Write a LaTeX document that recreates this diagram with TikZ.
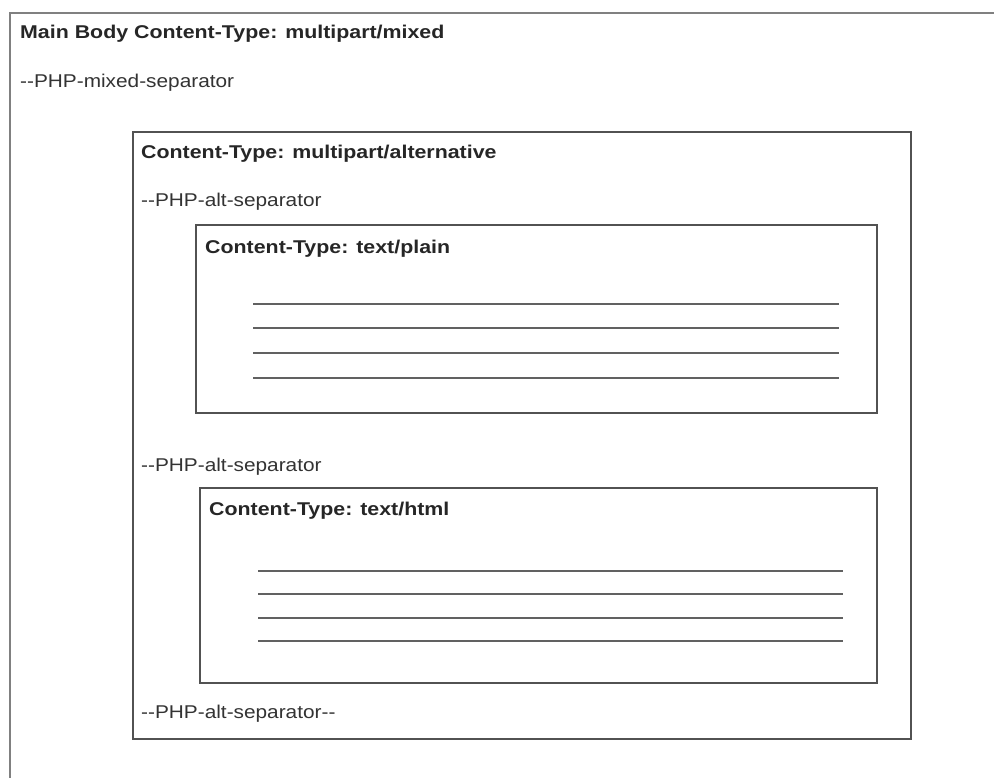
\documentclass[tikz,border=0pt]{standalone}
\usepackage{fontspec}
\usepackage{graphicx}
\setmainfont{Liberation Sans}
\newcommand{\widebold}[1]{\scalebox{1.155}[1]{#1}}
\newcommand{\widetxt}[1]{\scalebox{1.125}[1]{#1}}
\begin{document}
\begin{tikzpicture}[x=1pt,y=-1pt,
  box/.style={draw=black!68, line width=2pt, fill=none, anchor=north west, inner sep=0pt},
  hdr/.style={anchor=base west, inner sep=0pt, font=\fontsize{18.5}{22}\selectfont\bfseries, text=black!85},
  sep/.style={anchor=base west, inner sep=0pt, font=\fontsize{18.5}{22}\selectfont, text=black!80},
  txtline/.style={draw=black!62, line width=2.1pt}]
\useasboundingbox (0,0) rectangle (994,778);
\fill[white] (0,0) rectangle (994,778);
% outer frame (partially visible)
\draw[black!50, line width=2.8pt] (10,778) -- (10,13) -- (994,13);
\node[hdr] (mainhdr) at (20,39) {\widebold{Main Body Content-Type: multipart/mixed}};
\node[sep] (mixsep) at (20,88) {\widetxt{{-}{-}PHP-mixed-separator}};
% multipart/alternative
\node[box, minimum width=778pt, minimum height=607pt] (alt) at (132,131) {};
\node[hdr] (althdr) at (141,159) {\widebold{Content-Type: multipart/alternative}};
\node[sep] (altsep1) at (141,207) {\widetxt{{-}{-}PHP-alt-separator}};
% text/plain
\node[box, minimum width=681pt, minimum height=188pt] (plain) at (195,224) {};
\node[hdr] (plainhdr) at (205,254) {\widebold{Content-Type: text/plain}};
\foreach \y in {304,328,353,378} \draw[txtline] (253,\y) -- (839,\y);
\node[sep] (altsep2) at (141,471) {\widetxt{{-}{-}PHP-alt-separator}};
% text/html
\node[box, minimum width=677pt, minimum height=195pt] (html) at (199,487) {};
\node[hdr] (htmlhdr) at (209,515) {\widebold{Content-Type: text/html}};
\foreach \y in {571,594,618,641} \draw[txtline] (258,\y) -- (843,\y);
\node[sep] (altsep3) at (141,718) {\widetxt{{-}{-}PHP-alt-separator{-}{-}}};
\end{tikzpicture}
\end{document}
